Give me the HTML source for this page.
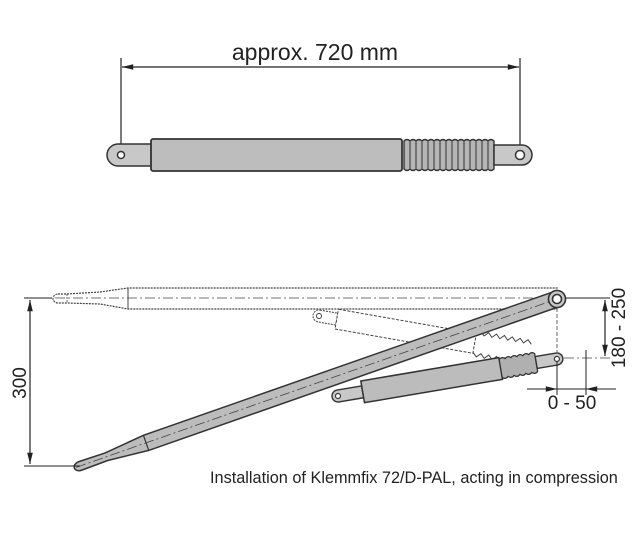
<!DOCTYPE html>
<html><head><style>
html,body{margin:0;padding:0;background:#fff;}
svg{display:block;}
text{font-family:"Liberation Sans",Arial,sans-serif;fill:#222;}
</style></head><body>
<svg width="640" height="535" viewBox="0 0 640 535" xmlns="http://www.w3.org/2000/svg">
<defs>
<marker id="ar" viewBox="0 0 14 10" refX="14" refY="5" markerWidth="14" markerHeight="8" orient="auto-start-reverse" markerUnits="userSpaceOnUse"><path d="M0,1.5 L14,5 L0,8.5 z" fill="#222"/></marker>
</defs>
<!-- TOP -->
<text x="315" y="60" font-size="23" text-anchor="middle">approx. 720 mm</text>
<line x1="121" y1="58" x2="121" y2="152" stroke="#222" stroke-width="1.2"/>
<line x1="520" y1="58" x2="520" y2="152" stroke="#222" stroke-width="1.2"/>
<line x1="122" y1="67" x2="519" y2="67" stroke="#222" stroke-width="1.2" marker-start="url(#ar)" marker-end="url(#ar)"/>
<path d="M118,144 L152,144 L152,166 L118,166 A11,11 0 0 1 118,144 z" fill="#c8c8c8" stroke="#333" stroke-width="1.5"/>
<circle cx="121" cy="155" r="3.5" fill="#fff" stroke="#333" stroke-width="1.5"/>
<rect x="151" y="139" width="251" height="32" rx="2" fill="#bdbdbd" stroke="#333" stroke-width="1.8"/>
<g fill="#b5b5b5" stroke="#333" stroke-width="1.4">
<path d="M404,141 q3,-3 6,0 q3,-3 6,0 q3,-3 6,0 q3,-3 6,0 q3,-3 6,0 q3,-3 6,0 q3,-3 6,0 q3,-3 6,0 q3,-3 6,0 q3,-3 6,0 q3,-3 6,0 q3,-3 6,0 q3,-3 6,0 q3,-3 6,0 q3,-3 6,0 L494,169 q-3,3 -6,0 q-3,3 -6,0 q-3,3 -6,0 q-3,3 -6,0 q-3,3 -6,0 q-3,3 -6,0 q-3,3 -6,0 q-3,3 -6,0 q-3,3 -6,0 q-3,3 -6,0 q-3,3 -6,0 q-3,3 -6,0 q-3,3 -6,0 q-3,3 -6,0 q-3,3 -6,0 z"/>
</g>
<g stroke="#333" stroke-width="1"><line x1="410" y1="142" x2="410" y2="168"/><line x1="416" y1="142" x2="416" y2="168"/><line x1="422" y1="142" x2="422" y2="168"/><line x1="428" y1="142" x2="428" y2="168"/><line x1="434" y1="142" x2="434" y2="168"/><line x1="440" y1="142" x2="440" y2="168"/><line x1="446" y1="142" x2="446" y2="168"/><line x1="452" y1="142" x2="452" y2="168"/><line x1="458" y1="142" x2="458" y2="168"/><line x1="464" y1="142" x2="464" y2="168"/><line x1="470" y1="142" x2="470" y2="168"/><line x1="476" y1="142" x2="476" y2="168"/><line x1="482" y1="142" x2="482" y2="168"/><line x1="488" y1="142" x2="488" y2="168"/></g>
<path d="M494,145 L522,145 A10,10 0 0 1 522,165 L494,165 z" fill="#c8c8c8" stroke="#333" stroke-width="1.5"/>
<circle cx="520" cy="155" r="4.5" fill="#fff" stroke="#333" stroke-width="1.5"/>

<!-- BOTTOM -->
<path d="M58,294 L67,294 L100,292 L128,288 L557,288 L557,309 L128,309 L100,304 L67,303 L58,303 A5,4.5 0 0 1 58,294 z" fill="none" stroke="#444" stroke-width="1.2" stroke-dasharray="2,1"/>
<line x1="128" y1="288" x2="128" y2="309" stroke="#444" stroke-width="1"/>
<line x1="67" y1="294" x2="67" y2="303" stroke="#444" stroke-width="0.8" stroke-dasharray="2,1"/>
<line x1="24" y1="298" x2="52" y2="298" stroke="#222" stroke-width="1"/>
<line x1="55" y1="298" x2="610" y2="298" stroke="#444" stroke-width="0.8" stroke-dasharray="10,3,2,3"/>
<!-- ghost cylinder -->
<g transform="translate(319,316) rotate(10)">
<path d="M0,-6 L18,-6 L18,6 L0,6 A6,6 0 0 1 0,-6 z" fill="#fff" stroke="#444" stroke-dasharray="2,1"/>
<circle cx="0" cy="0" r="2.5" fill="none" stroke="#444"/>
<rect x="18" y="-10" width="140" height="20" fill="#fff" stroke="#444" stroke-dasharray="3,1.5"/>
<path d="M158,-9 l4,-4 l4,4 l4,-4 l4,4 l4,-4 l4,4 l4,-4 l4,4 l4,-4 l4,4 l4,-4 l4,4 l4,-4 l4,4 M158,9 l4,4 l4,-4 l4,4 l4,-4 l4,4 l4,-4 l4,4 l4,-4 l4,4 l4,-4 l4,4 l4,-4 l4,4 l4,-4" fill="none" stroke="#444"/>
</g>
<!-- angled arm -->
<g transform="translate(80,466) rotate(-19.3)">
<path d="M0,-4.5 L28,-4 L70,-8 L505,-8 L505,8 L70,8 L28,4 L0,4.5 A6,4.5 0 0 1 0,-4.5 z" fill="#bcbcbc" stroke="#333" stroke-width="1.5"/>
<line x1="70" y1="-8" x2="70" y2="8" stroke="#333" stroke-width="1.2"/>
<line x1="-4" y1="0" x2="505" y2="0" stroke="#444" stroke-width="0.8" stroke-dasharray="10,3,2,3"/>
</g>
<circle cx="557" cy="299" r="8.5" fill="#c8c8c8" stroke="#333" stroke-width="1.6"/>
<circle cx="557" cy="299" r="4.5" fill="#fff" stroke="#333" stroke-width="1.6"/>
<!-- lower cylinder -->
<g transform="translate(338,396) rotate(-9.6)">
<path d="M0,-6 L25,-6 L25,6 L0,6 A6,6 0 0 1 0,-6 z" fill="#c8c8c8" stroke="#333" stroke-width="1.4"/>
<circle cx="0" cy="0" r="2.5" fill="#fff" stroke="#333" stroke-width="1.2"/>
<rect x="25" y="-11" width="140" height="22" fill="#bcbcbc" stroke="#333" stroke-width="1.5"/>
<path d="M165,-9 q3,-3 6,0 q3,-3 6,0 q3,-3 6,0 q3,-3 6,0 q3,-3 6,0 q3,-3 6,0 L201,9 q-3,3 -6,0 q-3,3 -6,0 q-3,3 -6,0 q-3,3 -6,0 q-3,3 -6,0 q-3,3 -6,0 z" fill="#b0b0b0" stroke="#333" stroke-width="1.2"/>
<path d="M201,-6 L222,-6 A6,6 0 0 1 222,6 L201,6 z" fill="#c8c8c8" stroke="#333" stroke-width="1.4"/>
<circle cx="222" cy="0" r="2.5" fill="#fff" stroke="#333" stroke-width="1.2"/>
</g>
<!-- dimensions -->
<line x1="30" y1="300" x2="30" y2="464" stroke="#222" stroke-width="1.2" marker-start="url(#ar)" marker-end="url(#ar)"/>
<line x1="24" y1="466" x2="80" y2="466" stroke="#222" stroke-width="1"/>
<text transform="translate(26,383) rotate(-90)" font-size="19" text-anchor="middle">300</text>
<line x1="565" y1="298" x2="610" y2="298" stroke="#222" stroke-width="1"/>
<line x1="564" y1="358" x2="612" y2="358" stroke="#444" stroke-width="0.8" stroke-dasharray="10,3,2,3"/>
<line x1="605" y1="300" x2="605" y2="356" stroke="#222" stroke-width="1.2" marker-start="url(#ar)" marker-end="url(#ar)"/>
<text transform="translate(625,328) rotate(-90)" font-size="19" text-anchor="middle">180 - 250</text>
<line x1="557" y1="308" x2="557" y2="352" stroke="#444" stroke-width="0.8" stroke-dasharray="4,2"/>
<line x1="557" y1="362" x2="557" y2="395" stroke="#222" stroke-width="1"/>
<line x1="586" y1="350" x2="586" y2="395" stroke="#222" stroke-width="1"/>
<line x1="527" y1="389" x2="557" y2="389" stroke="#222" stroke-width="1" marker-end="url(#ar)"/>
<line x1="616" y1="389" x2="586" y2="389" stroke="#222" stroke-width="1" marker-end="url(#ar)"/>
<line x1="557" y1="389" x2="586" y2="389" stroke="#222" stroke-width="1"/>
<text x="572" y="409" font-size="19" text-anchor="middle">0 - 50</text>
<text x="210" y="483" font-size="16.3">Installation of Klemmfix 72/D-PAL, acting in compression</text>
</svg>
</body></html>
